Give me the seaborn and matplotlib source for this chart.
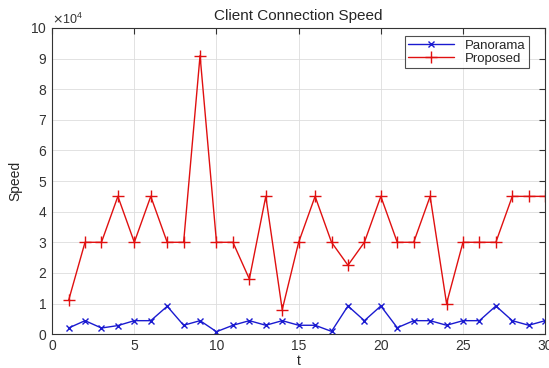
import pandas as pd
import matplotlib.pyplot as plt
import matplotlib.ticker as mticker
import seaborn as sns

# values
t = list(range(1, 31))
panorama = [2000, 4400, 2000, 2800, 4400, 4400, 9100, 2900, 4400, 800,
            2900, 4400, 2900, 4400, 2900, 2900, 900, 9200, 4400, 9200,
            2100, 4400, 4400, 2900, 4400, 4400, 9200, 4400, 2900, 4400]
proposed = [11000, 30000, 30000, 45000, 30000, 45000, 30000, 30000, 91000, 30000,
            30000, 18000, 45000, 8000, 30000, 45000, 30000, 22500, 30000, 45000,
            30000, 30000, 45000, 10000, 30000, 30000, 30000, 45000, 45000, 45000]


def main():
    sns.set_style("whitegrid")
    plt.rcParams['font.family'] = ['Liberation Sans', 'DejaVu Sans']

    df_pan = pd.DataFrame({'t': t, 'Speed': panorama})
    df_pro = pd.DataFrame({'t': t, 'Speed': proposed})

    fig = plt.figure(figsize=(5.49, 3.68), dpi=100)
    ax = fig.add_axes([0.095, 0.092, 0.898, 0.832])

    sns.lineplot(data=df_pan, x='t', y='Speed', ax=ax, color='#1a1ad0', lw=1.0,
                 marker='x', markersize=5, markeredgewidth=1.0,
                 markeredgecolor='#1a1ad0', label='Panorama')
    sns.lineplot(data=df_pro, x='t', y='Speed', ax=ax, color='#e01010', lw=1.0,
                 marker='+', markersize=8, markeredgewidth=1.0,
                 markeredgecolor='#e01010', label='Proposed')

    ax.set_xlim(0, 30)
    ax.set_ylim(0, 100000)
    ax.xaxis.set_major_locator(mticker.MultipleLocator(5))
    ax.yaxis.set_major_locator(mticker.MultipleLocator(10000))
    fmt = mticker.ScalarFormatter(useMathText=True)
    fmt.set_powerlimits((4, 4))
    ax.yaxis.set_major_formatter(fmt)
    ax.yaxis.get_offset_text().set_fontsize(9)
    ax.yaxis.get_offset_text().set_color('#555555')

    ax.grid(True, color='#dddddd', lw=0.6)
    for s in ax.spines.values():
        s.set_color('#333333')
        s.set_linewidth(0.8)
    ax.tick_params(direction='in', top=True, right=True, length=4,
                   labelsize=10, colors='#333333', labelcolor='#333333')

    ax.set_title('Client Connection Speed', fontsize=11, pad=6)
    ax.set_xlabel('t', fontsize=10, labelpad=1)
    ax.set_ylabel('Speed', fontsize=10, labelpad=6)

    leg = ax.legend(loc='upper right', fontsize=9.5, frameon=True, fancybox=False,
                    borderpad=0.25, handlelength=3.5, labelspacing=0.05,
                    bbox_to_anchor=(0.98, 0.995))
    leg.get_frame().set_edgecolor('#222222')
    leg.get_frame().set_linewidth(0.8)

    fig.savefig('out.png', dpi=100)
    plt.close(fig)


if __name__ == "__main__":
    main()
